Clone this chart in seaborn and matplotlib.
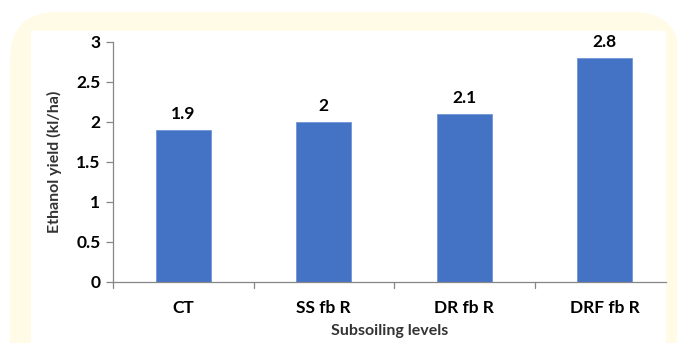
import matplotlib
matplotlib.use("Agg")
import matplotlib.pyplot as plt
from matplotlib.patches import FancyBboxPatch, Rectangle
import seaborn as sns
import pandas as pd

# Ethanol yield by subsoiling level
levels = ["CT", "SS fb R", "DR fb R", "DRF fb R"]
ethanol_yield = [1.9, 2.0, 2.1, 2.8]
yticks = [0, 0.5, 1, 1.5, 2, 2.5, 3]
ytick_labels = ["0", "0.5", "1", "1.5", "2", "2.5", "3"]
value_labels = ["1.9", "2", "2.1", "2.8"]

df = pd.DataFrame({"level": levels, "yield": ethanol_yield})

sns.set_theme(style="white")
plt.rcParams["font.family"] = ["Lato", "DejaVu Sans"]

W, H = 677, 343
fig = plt.figure(figsize=(W / 100, H / 100), dpi=100)
fig.patch.set_facecolor("white")

# cream rounded frame with a white panel inside
frame = FancyBboxPatch((10 / W, -40 / H), 670 / W, (H - 12 + 40) / H,
                       boxstyle="round,pad=0,rounding_size=0.07",
                       transform=fig.transFigure, facecolor="#fffbe6",
                       edgecolor="none", zorder=0, mutation_aspect=W / H)
fig.patches.append(frame)
panel = Rectangle((31 / W, 0), (666 - 31) / W, (H - 31) / H,
                  transform=fig.transFigure, facecolor="white",
                  edgecolor="none", zorder=0.5)
fig.patches.append(panel)

# axes: y=0 at 282px, y=3 at 42px; x from 113px to 666px
ax = fig.add_axes([113 / W, (H - 282) / H, (666 - 113) / W, (282 - 42) / H])
ax.set_zorder(2)
ax.set_facecolor("none")

sns.barplot(data=df, x="level", y="yield", color="#4472C4", width=0.39,
            saturation=1, ax=ax, zorder=2)
for p in ax.patches:
    p.set_edgecolor("#7196d6")
    p.set_linewidth(0.6)

ax.set_ylim(0, 3)
cat_w = 140.5
ax.set_xlim(-0.5, -0.5 + (666 - 113) / cat_w)
ax.set_yticks(yticks)
ax.set_yticklabels(ytick_labels, fontsize=12.5, fontweight="bold", color="black")
ax.set_xticks(range(len(levels)))
ax.set_xticklabels(levels, fontsize=12.5, fontweight="bold", color="black")
ax.tick_params(axis="x", length=0, pad=13)
ax.tick_params(axis="y", length=5, width=0.9, color="#868686", pad=4,
               left=True, direction="out")

# category boundary tick marks on the x axis
for b in [-0.5, 0.5, 1.5, 2.5]:
    ax.plot([b, b], [0, -0.07], color="#868686", lw=0.9, clip_on=False)

for s in ["top", "right"]:
    ax.spines[s].set_visible(False)
for s in ["left", "bottom"]:
    ax.spines[s].set_color("#868686")
    ax.spines[s].set_linewidth(0.9)

for i, (v, t) in enumerate(zip(ethanol_yield, value_labels)):
    ax.text(i, v + 0.1, t, ha="center", va="bottom", fontsize=12.5,
            fontweight="bold", color="black")

ax.set_xlabel("Subsoiling levels", fontsize=11.5, fontweight="bold",
              color="#333333", labelpad=6)
ax.set_ylabel("Ethanol yield (kl/ha)", fontsize=11.5, fontweight="bold",
              color="#333333", labelpad=10)

fig.savefig("out.png", dpi=100, facecolor=fig.get_facecolor())
